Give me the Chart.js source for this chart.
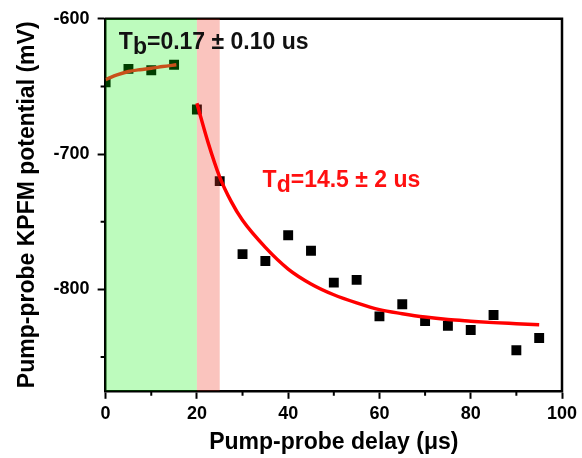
<!DOCTYPE html>
<html><head><meta charset="utf-8">
<script src="https://cdn.jsdelivr.net/npm/chart.js@4.4.0/dist/chart.umd.min.js"></script>
<style>html,body{margin:0;padding:0;background:#fff}#wrap{width:582px;height:458px}</style>
</head><body><div id="wrap"><canvas id="c" width="582" height="458"></canvas></div>
<script>
// ---- data ----
const delays = [0, 5, 10, 15, 20, 25, 30, 35, 40, 45, 50, 55, 60, 65, 70, 75, 80, 85, 90, 95];
const potentials = [-647, -637, -638, -634, -667, -720, -774, -779, -760, -771.5, -795, -793, -820, -811, -823.5, -827, -830, -819, -845, -836];
const riseFitX = [0, 1, 2.5, 5, 7.5, 10, 12.5, 15.5];
const riseFitY = [-645, -643.5, -641.5, -639, -637.6, -636.6, -635.3, -634];
const decayFitX = [20, 22.5, 25, 27.5, 30, 35, 40, 45, 50, 55, 60, 65, 70, 75, 80, 85, 90, 95];
const decayFitY = [-662.5, -692, -717, -735, -749, -769, -785, -796, -804, -810, -815, -818, -820.5, -822.3, -823.5, -824.6, -825.4, -826.2];
const xMajorTicks = [0, 20, 40, 60, 80, 100];
const xMinorTicks = [10, 30, 50, 70, 90];
const yMajorTicks = [-600, -700, -800];
const yMinorTicks = [-650, -750, -850];
const greenBand = [0, 20];
const pinkBand = [20, 25];
const riseLabel = {main: 'T', sub: 'b', rest: '=0.17 \u00B1 0.10 us', x: 2.9, y: -622.5};
const decayLabel = {main: 'T', sub: 'd', rest: '=14.5 \u00B1 2 us', x: 34.4, y: -724.5};

const FONT = '"Liberation Sans", Arial, sans-serif';
const toPts = (xs, ys) => xs.map((x, i) => ({x, y: ys[i]}));

const overlay = {
  id: 'overlay',
  beforeDatasetsDraw(chart) {
    const {ctx, chartArea: a, scales: {x, y}} = chart;
    ctx.save();
    ctx.strokeStyle = '#000';
    ctx.lineWidth = 2.5;
    ctx.beginPath();
    ctx.moveTo(a.left - 1.25, a.top); ctx.lineTo(a.right, a.top); ctx.lineTo(a.right, a.bottom + 1.25);
    ctx.stroke();
    ctx.lineWidth = 2;
    ctx.beginPath();
    xMinorTicks.forEach(v => { const px = x.getPixelForValue(v); ctx.moveTo(px, a.bottom); ctx.lineTo(px, a.bottom + 5); });
    yMinorTicks.forEach(v => { const py = y.getPixelForValue(v); ctx.moveTo(a.left, py); ctx.lineTo(a.left - 5, py); });
    ctx.stroke();
    ctx.restore();
  },
  afterDatasetDraw(chart, args) {
    if (args.index !== 0) return;
    const {ctx, chartArea: a, scales: {x}} = chart;
    ctx.save();
    ctx.fillStyle = 'rgba(0,240,0,0.26)';
    ctx.fillRect(x.getPixelForValue(greenBand[0]), a.top, x.getPixelForValue(greenBand[1]) - x.getPixelForValue(greenBand[0]), a.bottom - a.top);
    ctx.fillStyle = 'rgba(240,60,40,0.30)';
    ctx.fillRect(x.getPixelForValue(pinkBand[0]), a.top, x.getPixelForValue(pinkBand[1]) - x.getPixelForValue(pinkBand[0]), a.bottom - a.top);
    ctx.restore();
  },
  afterDatasetsDraw(chart) {
    const {ctx, scales: {x, y}} = chart;
    const draw = (lab, color) => {
      let px = x.getPixelForValue(lab.x), py = y.getPixelForValue(lab.y);
      ctx.fillStyle = color;
      ctx.textBaseline = 'alphabetic';
      ctx.textAlign = 'left';
      ctx.font = 'bold 23px ' + FONT;
      ctx.fillText(lab.main, px, py); px += ctx.measureText(lab.main).width;
      ctx.fillText(lab.sub, px, py + 5); px += ctx.measureText(lab.sub).width;
      ctx.fillText(lab.rest, px, py);
    };
    ctx.save();
    draw(riseLabel, '#111');
    draw(decayLabel, '#ff1010');
    ctx.restore();
  }
};

new Chart(document.getElementById('c'), {
  type: 'scatter',
  data: {
    datasets: [
      {data: toPts(delays, potentials), pointStyle: 'rect', pointRadius: 7, pointHoverRadius: 7,
       backgroundColor: '#000', borderColor: '#000', borderWidth: 0, order: 3, clip: 0},
      {data: toPts(riseFitX, riseFitY), showLine: true, pointRadius: 0, borderColor: '#c8501a', borderWidth: 3.5,
       cubicInterpolationMode: 'monotone', order: 2},
      {data: toPts(decayFitX, decayFitY), showLine: true, pointRadius: 0, borderColor: '#ff0000', borderWidth: 3.5,
       cubicInterpolationMode: 'monotone', order: 1}
    ]
  },
  options: {
    responsive: false, animation: false, devicePixelRatio: 1,
    layout: {padding: {left: 14, right: 20, top: 18, bottom: 2}},
    plugins: {legend: {display: false}, tooltip: {enabled: false}},
    scales: {
      x: {
        type: 'linear', min: 0, max: 100,
        border: {display: true, color: '#000', width: 2.5},
        grid: {drawOnChartArea: false, drawTicks: true, tickLength: 8, tickWidth: 2,
               tickColor: c => xMajorTicks.includes(c.tick.value) ? '#000' : 'rgba(0,0,0,0)'},
        ticks: {stepSize: 10, padding: 4, color: '#000', font: {family: FONT, size: 18, weight: 'bold'}, maxRotation: 0,
                callback: v => xMajorTicks.includes(v) ? String(v) : ''},
        title: {display: true, text: 'Pump-probe delay (\u03BCs)', color: '#000', font: {family: FONT, size: 23, weight: 'bold'}, padding: {top: 0, bottom: 0}}
      },
      y: {
        type: 'linear', min: -875, max: -600,
        border: {display: true, color: '#000', width: 2.5},
        grid: {drawOnChartArea: false, drawTicks: true, tickLength: 8, tickWidth: 2,
               tickColor: c => yMajorTicks.includes(c.tick.value) ? '#000' : 'rgba(0,0,0,0)'},
        ticks: {stepSize: 50, padding: 8, color: '#000', font: {family: FONT, size: 18, weight: 'bold'},
                callback: v => yMajorTicks.includes(v) ? String(v) : ''},
        title: {display: true, text: 'Pump-probe KPFM potential (mV)', color: '#000', font: {family: FONT, size: 23, weight: 'bold'}, padding: {top: 0, bottom: 4}}
      }
    }
  },
  plugins: [overlay]
});
</script></body></html>
